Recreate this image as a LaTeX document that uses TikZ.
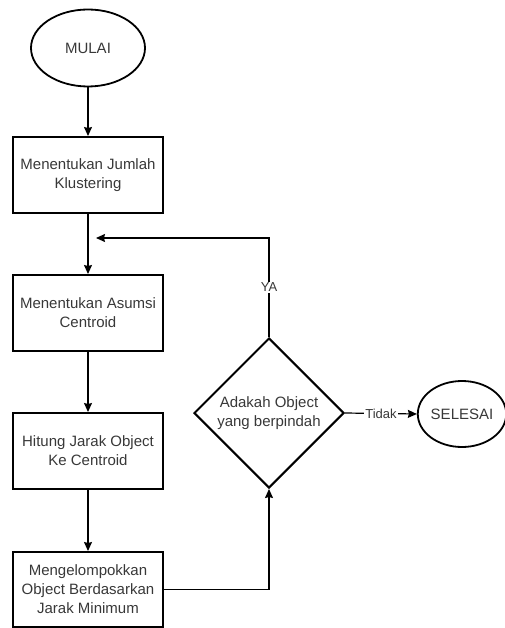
\documentclass[tikz,border=0pt]{standalone}
\usepackage{fontspec}
\setmainfont{Liberation Sans}
\usetikzlibrary{shapes.geometric,arrows.meta}
\begin{document}
\begin{tikzpicture}[x=1pt,y=1pt,
 txt/.style={text=black!78, font=\fontsize{15}{19}\selectfont, align=center},
 box/.style={txt, draw, line width=2pt, minimum width=150pt, minimum height=76pt, inner sep=0pt},
 term/.style={txt, ellipse, draw, line width=1.8pt, inner sep=0pt},
 dec/.style={txt, diamond, draw, line width=2pt, minimum width=150pt, minimum height=150pt, inner sep=0pt},
 lbl/.style={text=black!78, font=\fontsize{13}{15}\selectfont, fill=white, inner sep=1pt},
 arr/.style={line width=1.2pt, -{Stealth[length=9pt,width=8pt,inset=1pt]}}]
\useasboundingbox (0,0) rectangle (504,-628);
\node[term, minimum width=114pt, minimum height=77pt] (mulai) at (88,-48) {MULAI};
\node[box] (b1) at (88,-175) {Menentukan Jumlah\\Klustering};
\node[box] (b2) at (88,-313) {Menentukan Asumsi\\Centroid};
\node[box] (b3) at (88,-451) {Hitung Jarak Object\\Ke Centroid};
\node[box, minimum height=75pt] (b4) at (88,-589.5) {Mengelompokkan\\Object Berdasarkan\\Jarak Minimum};
\node[dec] (d) at (269,-413) {Adakah Object\\yang berpindah};
\node[term, minimum width=83pt, minimum height=66pt] (sel) at (462,-414) {SELESAI};
\coordinate (loopend) at (96,-238);
\draw[arr] (mulai) -- (b1);
\draw[arr] (b1) -- (b2);
\draw[arr] (b2) -- (b3);
\draw[arr] (b3) -- (b4);
\draw[arr] (b4.east) -| (d.south);
\draw[arr] (d.north) |- node[pos=0.25, lbl] {YA} (loopend);
\draw[arr] (d.east) -- node[lbl] {Tidak} (sel.west);
\end{tikzpicture}
\end{document}
